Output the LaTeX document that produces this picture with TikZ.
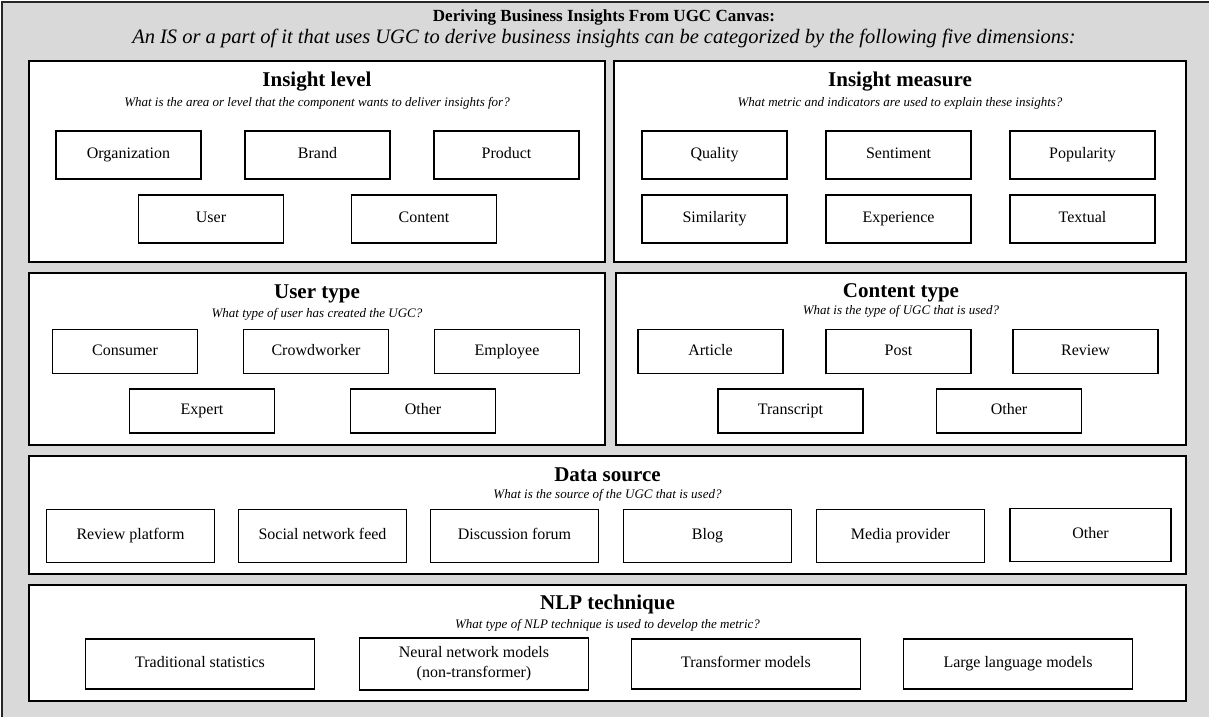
\documentclass[tikz,border=0pt]{standalone}
\usepackage{fontspec}
\setmainfont{Liberation Serif}
\usetikzlibrary{positioning}
\definecolor{canvasgray}{HTML}{D9D9D9}
\tikzstyle{canvas} = [rectangle, draw=black!85, line width=2pt, fill=canvasgray]
\tikzstyle{panel} = [rectangle, draw=black, line width=2pt, fill=white, inner sep=0pt]
\tikzstyle{boxbase} = [rectangle, draw=black, line width=1.6pt, fill=white,
  minimum width=145pt, minimum height=48pt, align=center,
  font=\fontsize{16}{20}\selectfont]
\tikzstyle{item} = [boxbase, text height=11pt, text depth=3.5pt]
\tikzstyle{wideitem} = [item, minimum width=168pt, minimum height=53pt]
\tikzstyle{nlpitem} = [item, minimum width=229pt, minimum height=50pt]
\tikzstyle{heading} = [font=\bfseries\fontsize{21}{25}\selectfont]
\tikzstyle{question} = [font=\itshape\fontsize{13}{15}\selectfont]

\begin{document}
\begin{tikzpicture}[x=1pt, y=-1pt]

  \useasboundingbox (0,0) rectangle (1209,716);

  %% Canvas background
  \node (canvas) [canvas, minimum width=1210pt, minimum height=717pt] at (607,360) {};
  \node (title) [font=\bfseries\fontsize{17}{20}\selectfont] at (604,17)
    {Deriving Business Insights From UGC Canvas:};
  \node (subtitle) [font=\itshape\fontsize{20.5}{24}\selectfont, below of=title, node distance=21pt]
    {An IS or a part of it that uses UGC to derive business insights can be categorized by the following five dimensions:};

  %% Insight level
  \node (lvl) [panel, minimum width=576pt, minimum height=201pt] at (317,161.5) {};
  \node (lvlhead) [heading] at (317,82) {Insight level};
  \node (lvlq) [question, below of=lvlhead, node distance=21pt]
    {What is the area or level that the component wants to deliver insights for?};
  \node (org) [item] at (128.5,155) {Organization};
  \node (brand) [item, right of=org, node distance=189pt] {Brand};
  \node (product) [item, right of=brand, node distance=189pt] {Product};
  \node (user) [item] at (211,219) {User};
  \node (content) [item, right of=user, node distance=213pt] {Content};

  %% Insight measure
  \node (msr) [panel, minimum width=572pt, minimum height=201pt] at (900,161.5) {};
  \node (msrhead) [heading] at (900,82) {Insight measure};
  \node (msrq) [question, below of=msrhead, node distance=21pt]
    {What metric and indicators are used to explain these insights?};
  \node (quality) [item] at (714.5,155) {Quality};
  \node (sentiment) [item, right of=quality, node distance=184pt] {Sentiment};
  \node (popularity) [item, right of=sentiment, node distance=184pt] {Popularity};
  \node (similarity) [item, below of=quality, node distance=64pt] {Similarity};
  \node (experience) [item, right of=similarity, node distance=184pt] {Experience};
  \node (textual) [item, right of=experience, node distance=184pt] {Textual};

  %% User type
  \node (usr) [panel, minimum width=576pt, minimum height=172pt] at (317,359) {};
  \node (usrhead) [heading] at (317,294) {User type};
  \node (usrq) [question, below of=usrhead, node distance=20pt]
    {What type of user has created the UGC?};
  \node (consumer) [item, minimum height=44pt] at (125,351.5) {Consumer};
  \node (crowd) [item, minimum height=44pt, right of=consumer, node distance=191pt] {Crowdworker};
  \node (employee) [item, minimum height=44pt, right of=crowd, node distance=191pt] {Employee};
  \node (expert) [item, minimum height=44pt] at (202,411) {Expert};
  \node (usrother) [item, minimum height=44pt, right of=expert, node distance=221pt] {Other};

  %% Content type
  \node (cnt) [panel, minimum width=570pt, minimum height=172pt] at (901,359) {};
  \node (cnthead) [heading] at (901,293) {Content type};
  \node (cntq) [question, below of=cnthead, node distance=18pt]
    {What is the type of UGC that is used?};
  \node (article) [item, minimum height=44pt] at (710.5,351.5) {Article};
  \node (post) [item, minimum height=44pt, right of=article, node distance=188pt] {Post};
  \node (review) [item, minimum height=44pt, right of=post, node distance=187pt] {Review};
  \node (transcript) [item, minimum height=44pt] at (790.5,411) {Transcript};
  \node (cntother) [item, minimum height=44pt, right of=transcript, node distance=218.5pt] {Other};

  %% Data source
  \node (src) [panel, minimum width=1157pt, minimum height=118pt] at (607.5,515) {};
  \node (srchead) [heading] at (607.5,475) {Data source};
  \node (srcq) [question, below of=srchead, node distance=20pt]
    {What is the source of the UGC that is used?};
  \node (platform) [wideitem] at (130.5,536) {Review platform};
  \node (feed) [wideitem, right of=platform, node distance=192pt] {Social network feed};
  \node (forum) [wideitem, right of=feed, node distance=192pt] {Discussion forum};
  \node (blog) [wideitem, right of=forum, node distance=193pt] {Blog};
  \node (media) [wideitem, right of=blog, node distance=193pt] {Media provider};
  \node (srcother) [wideitem, minimum width=161pt, right of=media, node distance=190pt, yshift=1pt] {Other};

  %% NLP technique
  \node (nlp) [panel, minimum width=1157pt, minimum height=116pt] at (607.5,643) {};
  \node (nlphead) [heading] at (607.5,604) {NLP technique};
  \node (nlpq) [question, below of=nlphead, node distance=21pt]
    {What type of NLP technique is used to develop the metric?};
  \node (stats) [nlpitem] at (200,664) {Traditional statistics};
  \node (neural) [boxbase, minimum width=229pt, minimum height=52pt, right of=stats, node distance=274pt]
    {Neural network models\\(non-transformer)};
  \node (transformer) [nlpitem, right of=neural, node distance=272pt] {Transformer models};
  \node (llm) [nlpitem, right of=transformer, node distance=272pt] {Large language models};

\end{tikzpicture}
\end{document}
